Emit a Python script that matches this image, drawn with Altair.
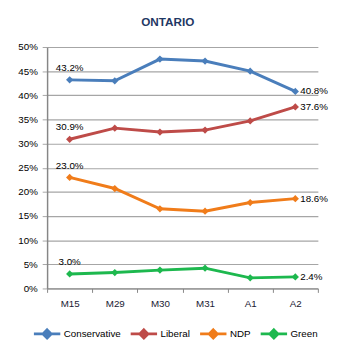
import altair as alt
import pandas as pd

categories = ["M15", "M29", "M30", "M31", "A1", "A2"]
parties = ["Conservative", "Liberal", "NDP", "Green"]
conservative = [43.2, 43.0, 47.5, 47.1, 45.0, 40.8]
liberal = [30.9, 33.2, 32.4, 32.8, 34.7, 37.6]
ndp = [23.0, 20.7, 16.5, 16.0, 17.8, 18.6]
green = [3.0, 3.3, 3.8, 4.2, 2.2, 2.4]
colors = ["#4A7EBB", "#BE4B48", "#F07C1A", "#1DB84E"]
y_ticks = [0, 0.05, 0.10, 0.15, 0.20, 0.25, 0.30, 0.35, 0.40, 0.45, 0.50]

series = {"Conservative": conservative, "Liberal": liberal, "NDP": ndp, "Green": green}
rows = []
for p in parties:
    for c, v in zip(categories, series[p]):
        rows.append({"party": p, "cat": c, "value": v / 100})
df = pd.DataFrame(rows)

FONT = "Liberation Sans"

x_enc = alt.X("cat:N", sort=categories, title=None,
              scale=alt.Scale(paddingInner=0, paddingOuter=0),
              axis=alt.Axis(labelAngle=0, tickBand="extent", tickSize=4, labelPadding=6,
                            grid=False, domainColor="#868686", tickColor="#868686",
                            labelFontSize=10, labelColor="#1a1a33", labelFont=FONT))
y_enc = alt.Y("value:Q", title=None,
              scale=alt.Scale(domain=[0, 0.5], nice=False),
              axis=alt.Axis(values=y_ticks, format=".0%", tickSize=5, labelPadding=5,
                            gridColor="#a6a6a6", gridWidth=1.2, domainColor="#868686",
                            tickColor="#a6a6a6", labelFontSize=10, labelColor="#000000",
                            labelFont=FONT, domainWidth=1.5))
color_enc = alt.Color("party:N", scale=alt.Scale(domain=parties, range=colors),
                      legend=alt.Legend(orient="none", direction="horizontal", title=None,
                                        legendX=-15, legendY=278,
                                        symbolType="M-1,0H1M0,-0.3L0.3,0L0,0.3L-0.3,0Z",
                                        symbolSize=729, symbolStrokeWidth=3,
                                        labelFontSize=10, labelFont=FONT, labelColor="#000000",
                                        columnPadding=3, labelOffset=2))

base = alt.Chart(df).encode(x=x_enc, y=y_enc)

line = base.mark_line(strokeWidth=3).encode(color=color_enc)
points = base.mark_point(shape="diamond", filled=True, size=55, opacity=1).encode(
    color=alt.Color("party:N", scale=alt.Scale(domain=parties, range=colors), legend=None))

first_lbl = base.transform_filter(alt.datum.cat == categories[0]).mark_text(
    dy=-12, align="center", fontSize=10, font=FONT, color="#000000"
).encode(text=alt.Text("value:Q", format=".1%"))
last_lbl = base.transform_filter(alt.datum.cat == categories[-1]).mark_text(
    dx=5, align="left", baseline="middle", fontSize=10, font=FONT, color="#000000"
).encode(text=alt.Text("value:Q", format=".1%"))

chart = alt.layer(line, points, first_lbl, last_lbl).properties(
    width=277, height=247,
    autosize="none",
    padding={"left": 40, "top": 36, "right": 39, "bottom": 58},
    title=alt.TitleParams("ONTARIO", fontSize=12, fontWeight="bold", color="#1F3864",
                          font=FONT, anchor="middle", dx=-15, offset=14),
).configure_view(stroke=None)

chart.save("out.html", embed_options={"renderer": "svg", "actions": False})
